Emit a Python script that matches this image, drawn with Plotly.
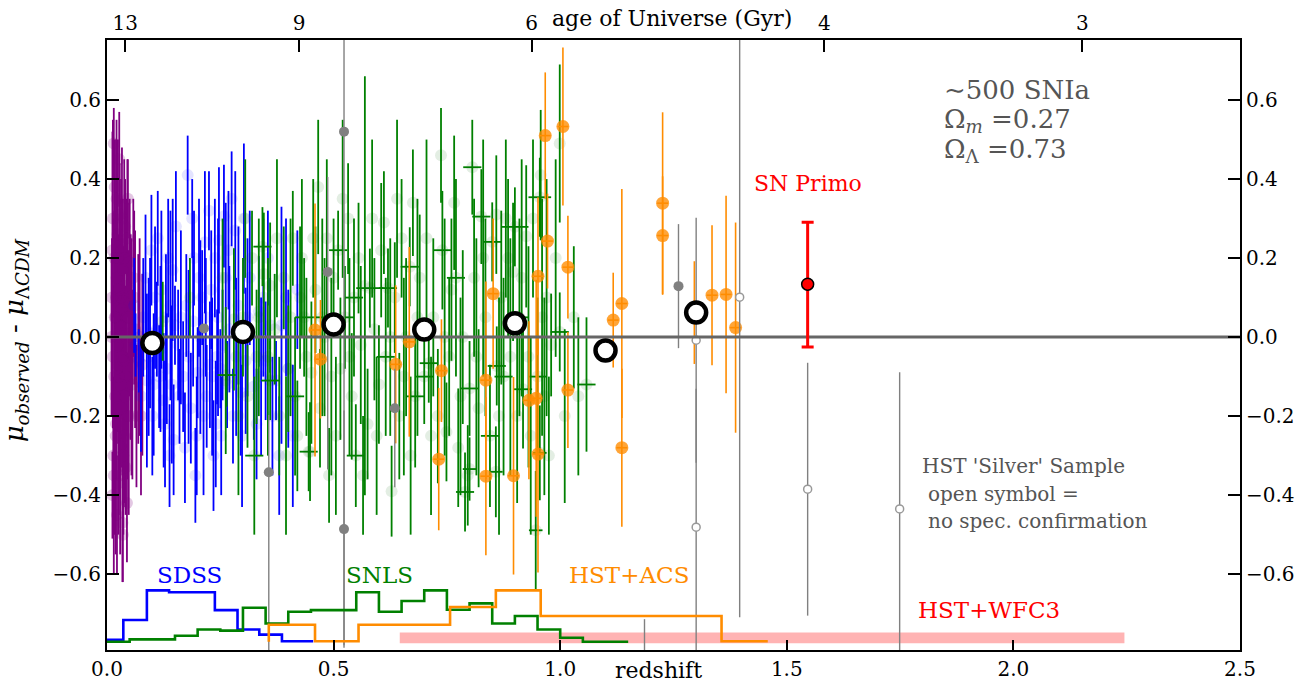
import plotly.graph_objects as go

# ---------------- data ----------------
# low-z sample (purple): (z, residual, error)
LOWZ = [
    (0.015, 0.49, 0.09), (0.028, 0.31, 0.13), (0.012, -0.40, 0.11), (0.034, -0.47, 0.15),
    (0.025, -0.37, 0.13), (0.078, -0.07, 0.23), (0.062, 0.02, 0.25), (0.069, -0.03, 0.24),
    (0.052, 0.00, 0.26), (0.056, -0.12, 0.24), (0.011, 0.10, 0.15), (0.013, -0.05, 0.18),
    (0.016, 0.20, 0.12), (0.018, -0.15, 0.16), (0.019, 0.05, 0.20), (0.020, -0.22, 0.14),
    (0.021, 0.15, 0.17), (0.022, -0.08, 0.19), (0.023, 0.26, 0.10), (0.024, -0.02, 0.22),
    (0.026, 0.12, 0.14), (0.027, -0.28, 0.12), (0.029, 0.03, 0.18), (0.030, -0.12, 0.20),
    (0.031, 0.22, 0.13), (0.032, 0.07, 0.16), (0.033, -0.18, 0.15), (0.035, 0.17, 0.18),
    (0.036, -0.06, 0.21), (0.037, 0.09, 0.14), (0.038, -0.25, 0.17), (0.039, 0.01, 0.20),
    (0.040, 0.28, 0.12), (0.042, -0.10, 0.18), (0.044, 0.13, 0.20), (0.045, -0.20, 0.16),
    (0.047, 0.05, 0.17), (0.049, 0.19, 0.15), (0.017, 0.38, 0.12), (0.014, -0.30, 0.14),
    (0.041, -0.33, 0.12), (0.046, 0.35, 0.10), (0.058, 0.15, 0.20), (0.065, -0.20, 0.18),
    (0.010, 0.00, 0.20), (0.013, 0.30, 0.25), (0.015, -0.35, 0.25), (0.017, 0.05, 0.35),
    (0.019, -0.25, 0.30), (0.021, 0.35, 0.20), (0.022, -0.45, 0.15), (0.024, 0.20, 0.30),
    (0.026, -0.10, 0.35), (0.028, 0.00, 0.30), (0.029, -0.35, 0.20), (0.031, 0.10, 0.30),
    (0.033, 0.30, 0.18), (0.034, -0.05, 0.30), (0.036, -0.30, 0.20), (0.038, 0.20, 0.25),
    (0.040, -0.15, 0.28), (0.043, 0.05, 0.30), (0.045, 0.25, 0.20), (0.048, -0.20, 0.25),
    (0.050, 0.10, 0.25), (0.054, -0.05, 0.30), (0.060, 0.10, 0.22), (0.072, 0.00, 0.25),
    (0.075, -0.20, 0.20), (0.016, -0.10, 0.40), (0.020, 0.10, 0.40), (0.027, 0.45, 0.12),
    (0.012, 0.22, 0.30), (0.035, -0.50, 0.12), (0.044, -0.42, 0.15),
]

# SDSS (blue)
SDSS = [
    (0.178, 0.41, 0.10), (0.145, 0.17, 0.18), (0.140, 0.08, 0.24), (0.106, 0.10, 0.18),
    (0.095, 0.01, 0.19), (0.088, -0.11, 0.22), (0.118, -0.03, 0.21), (0.125, -0.16, 0.17),
    (0.147, -0.26, 0.14), (0.157, -0.02, 0.14), (0.168, -0.10, 0.14), (0.192, 0.20, 0.12),
    (0.206, 0.00, 0.245), (0.216, 0.24, 0.18), (0.227, -0.07, 0.16), (0.240, -0.22, 0.16),
    (0.247, 0.245, 0.185), (0.258, 0.306, 0.13), (0.262, 0.15, 0.19), (0.283, 0.27, 0.15),
    (0.190, 0.04, 0.165), (0.200, -0.09, 0.115), (0.132, -0.08, 0.14), (0.070, -0.06, 0.08),
    (0.063, -0.02, 0.08), (0.302, 0.30, 0.19), (0.306, -0.06, 0.185), (0.324, -0.125, 0.135),
    (0.335, 0.065, 0.14), (0.350, -0.06, 0.15), (0.373, -0.11, 0.10), (0.385, 0.03, 0.30),
    (0.360, 0.03, 0.12), (0.243, -0.05, 0.12), (0.250, -0.08, 0.10), (0.255, -0.02, 0.14),
    (0.265, -0.12, 0.11), (0.110, 0.02, 0.12), (0.115, -0.10, 0.13), (0.130, 0.05, 0.16),
    (0.150, 0.03, 0.10), (0.160, -0.15, 0.12), (0.175, 0.08, 0.13), (0.185, -0.18, 0.14),
    (0.210, 0.10, 0.12), (0.220, -0.15, 0.13), (0.230, 0.12, 0.15), (0.235, -0.30, 0.14),
    (0.270, 0.02, 0.16), (0.278, -0.20, 0.12), (0.290, 0.08, 0.20), (0.295, -0.14, 0.16),
    (0.315, 0.15, 0.17), (0.330, -0.22, 0.14), (0.345, 0.10, 0.20), (0.365, -0.20, 0.15),
    (0.400, -0.08, 0.20), (0.410, -0.25, 0.18), (0.420, 0.12, 0.15), (0.080, 0.05, 0.15),
    (0.100, -0.20, 0.15), (0.138, -0.30, 0.13), (0.198, -0.25, 0.15), (0.225, 0.32, 0.10),
    (0.275, 0.35, 0.12), (0.060, 0.08, 0.12), (0.075, -0.15, 0.14), (0.085, 0.15, 0.16),
    (0.092, -0.05, 0.20), (0.098, 0.22, 0.14), (0.103, -0.12, 0.18), (0.112, 0.25, 0.12),
    (0.120, 0.12, 0.20), (0.128, -0.22, 0.16), (0.135, 0.20, 0.15), (0.143, -0.12, 0.20),
    (0.152, 0.28, 0.14), (0.163, 0.05, 0.22), (0.172, -0.28, 0.14), (0.180, -0.05, 0.22),
    (0.188, 0.30, 0.10), (0.195, -0.35, 0.12), (0.203, 0.15, 0.20), (0.213, -0.20, 0.20),
    (0.218, 0.05, 0.15), (0.232, -0.10, 0.20), (0.238, 0.20, 0.15), (0.245, 0.05, 0.25),
    (0.252, -0.25, 0.15), (0.268, 0.22, 0.15), (0.285, -0.05, 0.20), (0.298, -0.25, 0.18),
    (0.310, 0.05, 0.20), (0.340, -0.10, 0.20), (0.355, 0.20, 0.12), (0.380, -0.30, 0.15),
    (0.395, 0.10, 0.20),
]

# SNLS (green): (z, residual, error, z-error)
SNLS = [
    (0.737, 0.46, 0.12, 0), (0.806, 0.43, 0.12, 0.02), (0.766, 0.34, 0.17, 0), (0.675, 0.34, 0.135, 0),
    (0.611, 0.29, 0.13, 0), (0.957, 0.41, 0.165, 0), (0.955, 0.354, 0.10, 0.025), (0.999, 0.49, 0.20, 0),
    (0.826, 0.305, 0.12, 0.02), (0.925, 0.255, 0.18, 0), (0.859, 0.31, 0.15, 0), (0.896, 0.165, 0.175, 0),
    (0.850, 0.241, 0.10, 0.02), (0.900, 0.279, 0.10, 0.03), (0.668, 0.178, 0.10, 0.02), (0.620, 0.124, 0.10, 0.02),
    (1.058, -0.12, 0.17, 0.02), (0.628, -0.39, 0.115, 0), (0.796, -0.35, 0.127, 0), (0.790, -0.392, 0.10, 0.02),
    (0.800, -0.334, 0.08, 0.015), (0.858, -0.341, 0.115, 0.015), (0.946, -0.489, 0.15, 0.015), (0.955, -0.293, 0.12, 0.015),
    (0.749, -0.24, 0.125, 0), (0.700, -0.10, 0.12, 0.02), (0.710, -0.066, 0.10, 0.02), (0.800, -0.13, 0.12, 0.02),
    (0.860, -0.073, 0.10, 0.02), (0.918, -0.132, 0.15, 0.02), (0.950, -0.10, 0.20, 0.02), (0.980, -0.02, 0.13, 0),
    (0.999, 0.013, 0.10, 0.02), (0.466, 0.38, 0.17, 0), (0.532, 0.30, 0.14, 0), (0.569, 0.13, 0.53, 0),
    (0.346, 0.16, 0.155, 0), (0.360, 0.13, 0.16, 0), (0.360, -0.11, 0.10, 0.02), (0.343, 0.229, 0.10, 0.02),
    (0.426, 0.10, 0.18, 0), (0.451, -0.09, 0.18, 0), (0.445, -0.29, 0.10, 0.02), (0.448, -0.29, 0.125, 0),
    (0.510, 0.22, 0.10, 0.02), (0.549, -0.30, 0.13, 0.02), (0.580, 0.124, 0.10, 0.03), (0.262, -0.11, 0.186, 0),
    (0.280, 0.045, 0.18, 0), (0.183, 0.10, 0.10, 0), (0.123, 0.04, 0.10, 0), (0.264, -0.096, 0.08, 0.02),
    (0.300, 0.05, 0.15, 0), (0.310, -0.15, 0.13, 0), (0.320, 0.20, 0.12, 0), (0.330, -0.05, 0.17, 0),
    (0.370, 0.02, 0.14, 0), (0.380, -0.20, 0.15, 0), (0.390, 0.15, 0.13, 0), (0.400, -0.08, 0.16, 0),
    (0.410, 0.25, 0.12, 0), (0.420, -0.25, 0.14, 0), (0.435, 0.05, 0.15, 0.02), (0.460, 0.12, 0.16, 0),
    (0.470, -0.18, 0.15, 0), (0.480, 0.00, 0.20, 0), (0.490, -0.35, 0.12, 0), (0.500, 0.15, 0.15, 0),
    (0.515, -0.08, 0.18, 0), (0.525, 0.05, 0.13, 0.02), (0.540, -0.15, 0.16, 0), (0.555, 0.20, 0.14, 0),
    (0.560, -0.02, 0.20, 0), (0.575, -0.22, 0.14, 0), (0.590, 0.02, 0.18, 0), (0.600, -0.12, 0.15, 0),
    (0.605, 0.22, 0.17, 0), (0.615, -0.05, 0.20, 0.02), (0.635, 0.10, 0.14, 0), (0.645, -0.20, 0.16, 0),
    (0.650, 0.25, 0.15, 0), (0.660, 0.00, 0.20, 0), (0.680, -0.15, 0.18, 0.02), (0.690, 0.15, 0.16, 0),
    (0.720, 0.05, 0.20, 0), (0.730, -0.20, 0.17, 0), (0.740, 0.22, 0.15, 0.02), (0.755, -0.05, 0.20, 0),
    (0.760, 0.12, 0.18, 0), (0.775, -0.28, 0.15, 0), (0.785, 0.00, 0.22, 0.02), (0.810, 0.15, 0.20, 0),
    (0.820, -0.18, 0.20, 0), (0.835, 0.05, 0.25, 0), (0.845, -0.25, 0.18, 0.02), (0.870, 0.10, 0.22, 0),
    (0.875, -0.10, 0.25, 0.02), (0.885, 0.20, 0.20, 0), (0.905, -0.20, 0.22, 0), (0.910, 0.05, 0.25, 0.02),
    (0.930, -0.05, 0.28, 0), (0.940, 0.30, 0.20, 0), (0.965, -0.15, 0.25, 0), (0.970, 0.10, 0.30, 0),
    (1.010, -0.20, 0.22, 0), (1.030, 0.05, 0.18, 0),
    (0.255, 0.15, 0.15, 0), (0.290, -0.20, 0.20, 0), (0.305, 0.30, 0.15, 0), (0.325, -0.30, 0.20, 0.02),
    (0.335, 0.05, 0.25, 0), (0.355, -0.05, 0.25, 0), (0.375, 0.25, 0.20, 0), (0.395, -0.30, 0.20, 0),
    (0.405, 0.05, 0.25, 0), (0.415, -0.15, 0.20, 0.02), (0.430, 0.20, 0.20, 0), (0.440, -0.05, 0.20, 0),
    (0.455, 0.25, 0.15, 0), (0.475, 0.05, 0.25, 0.02), (0.485, 0.25, 0.20, 0), (0.495, -0.10, 0.25, 0),
    (0.505, -0.25, 0.20, 0), (0.520, 0.35, 0.20, 0), (0.535, -0.05, 0.25, 0), (0.545, 0.10, 0.20, 0.02),
    (0.565, -0.35, 0.15, 0), (0.585, 0.30, 0.20, 0), (0.595, -0.25, 0.20, 0), (0.625, 0.00, 0.25, 0),
    (0.640, 0.35, 0.20, 0), (0.655, -0.10, 0.25, 0), (0.670, -0.30, 0.20, 0), (0.685, 0.05, 0.30, 0),
    (0.705, 0.25, 0.25, 0), (0.715, -0.25, 0.20, 0), (0.745, 0.00, 0.30, 0), (0.770, 0.15, 0.25, 0.02),
    (0.780, -0.15, 0.25, 0), (0.815, -0.05, 0.30, 0), (0.830, 0.20, 0.30, 0), (0.865, -0.20, 0.30, 0),
    (0.880, 0.30, 0.20, 0), (0.890, -0.05, 0.30, 0), (0.915, 0.15, 0.30, 0), (0.935, -0.25, 0.25, 0),
    (0.960, 0.05, 0.30, 0), (0.975, -0.30, 0.20, 0), (0.990, 0.20, 0.25, 0), (1.040, -0.15, 0.20, 0),
]

# HST+ACS (orange)
ACS = [
    (0.967, 0.51, 0.16), (1.006, 0.533, 0.20), (0.972, 0.243, 0.12), (0.951, 0.154, 0.20),
    (1.017, 0.177, 0.13), (0.852, 0.11, 0.19), (1.226, 0.339, 0.23), (1.226, 0.257, 0.15),
    (1.136, 0.085, 0.29), (1.117, 0.043, 0.12), (1.335, 0.106, 0.177), (1.366, 0.108, 0.25),
    (1.387, 0.024, 0.266), (1.296, 0.062, 0.13), (1.017, -0.134, 0.147), (0.931, -0.16, 0.20),
    (0.947, -0.155, 0.30), (0.951, -0.296, 0.30), (1.136, -0.28, 0.20), (0.667, -0.012, 0.24),
    (0.637, -0.069, 0.20), (0.738, -0.085, 0.13), (0.732, -0.309, 0.18), (0.836, -0.109, 0.25),
    (0.836, -0.352, 0.20), (0.897, -0.351, 0.25), (0.459, 0.018, 0.32), (0.471, -0.056, 0.15),
]
ACS_ZERR = 0.012

# HST silver sample, filled symbols: (z, residual, err+, err-)
SILVER_FILLED = [
    (0.523, 0.52, 1.30, 1.30), (0.523, -0.486, 0.30, 0.30), (0.487, 0.165, 0.24, 0.50),
    (0.357, -0.342, 0.145, 0.45), (0.635, -0.18, 0.10, 0.20), (0.214, 0.022, 0.0, 0.0),
    (1.261, 0.129, 0.157, 0.157),
]
# HST silver sample, open symbols (no spectroscopic confirmation)
SILVER_OPEN = [
    (1.300, -0.008, 0.31, 0.31), (1.300, -0.481, 0.35, 0.35), (1.396, 0.101, 0.81, 0.81),
    (1.546, -0.385, 0.32, 0.32), (1.749, -0.435, 0.346, 0.40), (1.186, -0.95, 0.236, 0.236),
]

# binned averages
BIN_Z = [0.1, 0.3, 0.5, 0.7, 0.9, 1.1, 1.3]
BIN_MU = [-0.015, 0.013, 0.032, 0.019, 0.035, -0.034, 0.062]

# SN Primo
PRIMO_Z = [1.546]
PRIMO_MU = [0.134]
PRIMO_ERR_P = [0.157]
PRIMO_ERR_M = [0.159]

# redshift histograms (drawn in residual units at the bottom): bin edges and levels
SDSS_EDGES = [0.0, 0.036, 0.088, 0.137, 0.238, 0.288, 0.336, 0.386, 0.455]
SDSS_LEVELS = [-0.766, -0.716, -0.641, -0.646, -0.691, -0.740, -0.753, -0.770]
SNLS_EDGES = [0.0, 0.05, 0.15, 0.20, 0.25, 0.30, 0.35, 0.40, 0.45, 0.55, 0.60, 0.65,
              0.70, 0.75, 0.80, 0.85, 0.90, 0.95, 1.00, 1.05, 1.15]
SNLS_LEVELS = [-0.771, -0.765, -0.756, -0.740, -0.743, -0.685, -0.725, -0.695, -0.691,
               -0.646, -0.695, -0.668, -0.641, -0.690, -0.674, -0.725, -0.706, -0.740,
               -0.761, -0.771]
ACS_EDGES = [0.357, 0.357, 0.459, 0.555, 0.757, 0.858, 0.957, 1.356, 1.458]
ACS_LEVELS = [-0.771, -0.728, -0.770, -0.728, -0.683, -0.641, -0.706, -0.770]
WFC3_Z = [0.646, 2.245]
WFC3_LEVEL = [-0.775, -0.748]

# age-of-universe axis
AGE_TICK_Z = [0.040, 0.424, 0.937, 1.583, 2.152]
AGE_TICK_TEXT = ["13", "9", "6", "4", "3"]

X_RANGE = [0.0, 2.5]
Y_RANGE = [-0.792, 0.752]
X_TICKS = [0.0, 0.5, 1.0, 1.5, 2.0, 2.5]
Y_TICKS = [-0.6, -0.4, -0.2, 0.0, 0.2, 0.4, 0.6]

# ---------------- figure ----------------
FONT = "DejaVu Serif"
PURPLE = "#800080"
BLUE = "#0000ff"
GREEN = "#008000"
ORANGE = "#ff8c00"
GREY = "#808080"


def col(t, i):
    return [r[i] for r in t]


def steps(edges, levels):
    return list(edges), list(levels) + [levels[-1]]


fig = go.Figure()

fig.add_shape(type="rect", x0=WFC3_Z[0], x1=WFC3_Z[1], y0=WFC3_LEVEL[0], y1=WFC3_LEVEL[1],
              xref="x", yref="y", fillcolor="#ffb3b3", line=dict(width=0), layer="below")


def err_series(data, color, faint, xerr=None):
    tr = go.Scatter(
        x=col(data, 0), y=col(data, 1), mode="markers",
        marker=dict(size=12, color=faint, line=dict(width=0)),
        error_y=dict(type="data", array=col(data, 2), color=color, thickness=1.8, width=0),
        hoverinfo="skip",
    )
    if xerr is not None:
        tr.error_x = dict(type="data", array=xerr, color=color, thickness=1.8, width=0)
    return tr


fig.add_trace(err_series(LOWZ, PURPLE, "rgba(128,0,128,0.22)"))
fig.add_trace(err_series(SDSS, BLUE, "rgba(0,0,255,0.11)"))
fig.add_trace(err_series(SNLS, GREEN, "rgba(0,100,0,0.11)", xerr=col(SNLS, 3)))

fig.add_trace(go.Scatter(
    x=col(ACS, 0), y=col(ACS, 1), mode="markers",
    marker=dict(size=13, color="rgba(255,140,0,0.78)", line=dict(width=0)),
    error_y=dict(type="data", array=col(ACS, 2), color=ORANGE, thickness=1.6, width=0),
    error_x=dict(type="data", array=[ACS_ZERR] * len(ACS), color=ORANGE, thickness=1.6, width=0),
    hoverinfo="skip"))

fig.add_trace(go.Scatter(
    x=col(SILVER_FILLED, 0), y=col(SILVER_FILLED, 1), mode="markers",
    marker=dict(size=10, color=GREY, line=dict(width=0)),
    error_y=dict(type="data", symmetric=False, array=col(SILVER_FILLED, 2),
                 arrayminus=col(SILVER_FILLED, 3), color=GREY, thickness=1.4, width=0),
    hoverinfo="skip"))
fig.add_trace(go.Scatter(
    x=col(SILVER_OPEN, 0), y=col(SILVER_OPEN, 1), mode="markers",
    marker=dict(size=8, color="white", symbol="circle", line=dict(width=1.5, color="#999999")),
    error_y=dict(type="data", symmetric=False, array=col(SILVER_OPEN, 2),
                 arrayminus=col(SILVER_OPEN, 3), color=GREY, thickness=1.4, width=0),
    hoverinfo="skip"))

# histograms
for edges, levels, c in [(SDSS_EDGES, SDSS_LEVELS, BLUE), (SNLS_EDGES, SNLS_LEVELS, GREEN),
                         (ACS_EDGES, ACS_LEVELS, ORANGE)]:
    xs, ys = steps(edges, levels)
    fig.add_trace(go.Scatter(x=xs, y=ys, mode="lines", line=dict(color=c, width=2.6, shape="hv"),
                             hoverinfo="skip"))

# zero line
fig.add_trace(go.Scatter(x=X_RANGE, y=[0, 0], mode="lines", line=dict(color="#666666", width=3),
                         hoverinfo="skip"))

# binned points
fig.add_trace(go.Scatter(x=BIN_Z, y=BIN_MU, mode="markers",
                         marker=dict(size=20, color="white", line=dict(width=4.5, color="black")),
                         hoverinfo="skip"))

# SN Primo
fig.add_trace(go.Scatter(
    x=PRIMO_Z, y=PRIMO_MU, mode="markers",
    marker=dict(size=12, color="red", line=dict(width=1.5, color="black")),
    error_y=dict(type="data", symmetric=False, array=PRIMO_ERR_P, arrayminus=PRIMO_ERR_M,
                 color="red", thickness=3, width=6),
    hoverinfo="skip"))

# hidden trace to carry the top / right axes
fig.add_trace(go.Scatter(x=PRIMO_Z, y=PRIMO_MU, xaxis="x2", yaxis="y2", mode="markers",
                         marker=dict(opacity=0), hoverinfo="skip"))

tick_font = dict(family=FONT, size=20, color="black")
axis_common = dict(showgrid=False, zeroline=False, showline=True, linewidth=2, linecolor="black",
                   ticks="inside", tickwidth=2, tickcolor="black", tickfont=tick_font,
                   automargin=False)

fig.update_layout(
    width=1314, height=684,
    margin=dict(l=107, r=74, t=40, b=34, autoexpand=False),
    plot_bgcolor="white", paper_bgcolor="white",
    showlegend=False,
    font=dict(family=FONT, size=20, color="black"),
    xaxis=dict(range=X_RANGE, tickvals=X_TICKS, ticktext=[f"{v:.1f}" for v in X_TICKS],
               ticklen=10, **axis_common),
    xaxis2=dict(range=X_RANGE, overlaying="x", side="top", anchor="y", tickvals=AGE_TICK_Z,
                ticktext=AGE_TICK_TEXT, ticklen=12, **axis_common),
    yaxis=dict(range=Y_RANGE, tickvals=Y_TICKS, tickformat=".1f", ticklen=12, **axis_common),
    yaxis2=dict(range=Y_RANGE, overlaying="y", side="right", anchor="x", tickvals=Y_TICKS,
                tickformat=".1f", ticklen=12, **axis_common),
)

TXT = "#555555"
ann = [
    dict(text="age of Universe (Gyr)", x=1.246, y=1.036, xref="x", yref="paper", yanchor="middle",
         font=dict(size=22, color="black")),
    dict(text="redshift", x=1.217, y=-0.034, xref="x", yref="paper", yanchor="middle",
         font=dict(size=22, color="black")),
    dict(text="<i>μ</i><sub><i>observed</i></sub> - <i>μ</i><sub>Λ<i>CDM</i></sub>",
         x=-0.081, y=0.508, xref="paper", yref="paper", xanchor="center", yanchor="middle",
         textangle=-90, font=dict(size=26, color="black")),
    dict(text="∼500 SNIa", x=1.843, y=0.625, xanchor="left", font=dict(size=26, color=TXT)),
    dict(text="Ω<sub><i>m</i></sub> =0.27", x=1.843, y=0.549, xanchor="left", font=dict(size=26, color=TXT)),
    dict(text="Ω<sub>Λ</sub> =0.73", x=1.843, y=0.473, xanchor="left", font=dict(size=26, color=TXT)),
    dict(text="SN Primo", x=1.424, y=0.39, xanchor="left", font=dict(size=22, color="red")),
    dict(text="HST 'Silver' Sample", x=1.795, y=-0.327, xanchor="left", font=dict(size=20, color=TXT)),
    dict(text="open symbol =", x=1.808, y=-0.397, xanchor="left", font=dict(size=20, color=TXT)),
    dict(text="no spec. confirmation", x=1.808, y=-0.466, xanchor="left", font=dict(size=20, color=TXT)),
    dict(text="SDSS", x=0.181, y=-0.603, font=dict(size=23, color=BLUE)),
    dict(text="SNLS", x=0.602, y=-0.603, font=dict(size=23, color=GREEN)),
    dict(text="HST+ACS", x=1.151, y=-0.603, font=dict(size=23, color=ORANGE)),
    dict(text="HST+WFC3", x=1.947, y=-0.691, font=dict(size=23, color="red")),
]
for a in ann:
    a.setdefault("xref", "x")
    a.setdefault("yref", "y")
    a["showarrow"] = False
    a["font"]["family"] = FONT
    fig.add_annotation(**a)

fig.write_html(
    "out.html",
    config={"displayModeBar": False},
    post_script="document.body.style.margin='0px';document.body.style.padding='0px';",
)
